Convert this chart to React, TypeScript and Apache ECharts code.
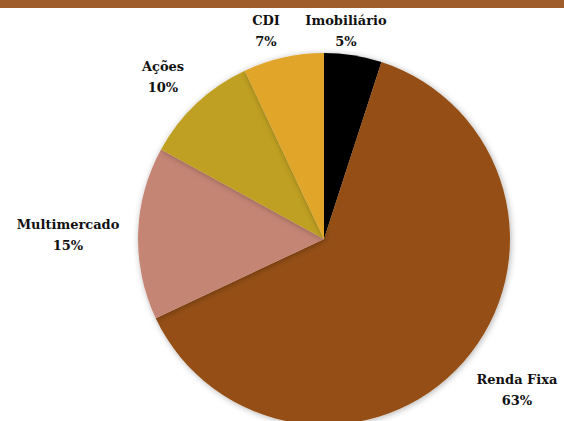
import React, { useEffect, useRef } from "react";
import * as echarts from "echarts";

const categories = ["Imobiliário", "Renda Fixa", "Multimercado", "Ações", "CDI"];
const values = [5, 63, 15, 10, 7];
const colors = ["#000000", "#954F13", "#C58575", "#BFA022", "#E1A52B"];
const labelPos: [number, number][] = [
  [346, 31],
  [517, 390],
  [68, 235],
  [163, 77],
  [266, 31],
];

export default function App() {
  const ref = useRef<HTMLDivElement>(null);
  useEffect(() => {
    if (!ref.current) return;
    const chart = echarts.init(ref.current, undefined, { renderer: "svg" });
    chart.setOption({
      animation: false,
      backgroundColor: "#ffffff",
      graphic: [
        {
          type: "rect",
          left: 0,
          top: 0,
          shape: { width: 564, height: 8 },
          style: { fill: "#9E5D2A" },
          z: 10,
        },
      ],
      series: [
        {
          type: "pie",
          center: [324, 239],
          radius: 186,
          startAngle: 90,
          clockwise: true,
          data: categories.map((name, i) => ({
            name,
            value: values[i],
            itemStyle: { color: colors[i] },
          })),
          itemStyle: {
            shadowBlur: 6,
            shadowColor: "rgba(0,0,0,0.3)",
            shadowOffsetX: 1,
            shadowOffsetY: 1,
          },
          label: {
            show: true,
            position: "outside",
            formatter: (p: any) => `${p.name}\n${Math.round(p.percent)}%`,
            fontFamily: "DejaVu Serif",
            fontWeight: "bold",
            fontSize: 13,
            lineHeight: 21,
            color: "#111111",
            align: "center",
            verticalAlign: "middle",
            overflow: "none",
            width: 200,
          },
          labelLine: { show: false },
          labelLayout: (params: any) => {
            const p = labelPos[params.dataIndex];
            return { x: p[0], y: p[1], align: "center", verticalAlign: "middle" };
          },
          emphasis: { disabled: true },
        },
      ],
    });
    return () => chart.dispose();
  }, []);
  return (
    <div
      ref={ref}
      style={{ position: "absolute", left: 0, top: 0, width: 564, height: 421 }}
    />
  );
}
